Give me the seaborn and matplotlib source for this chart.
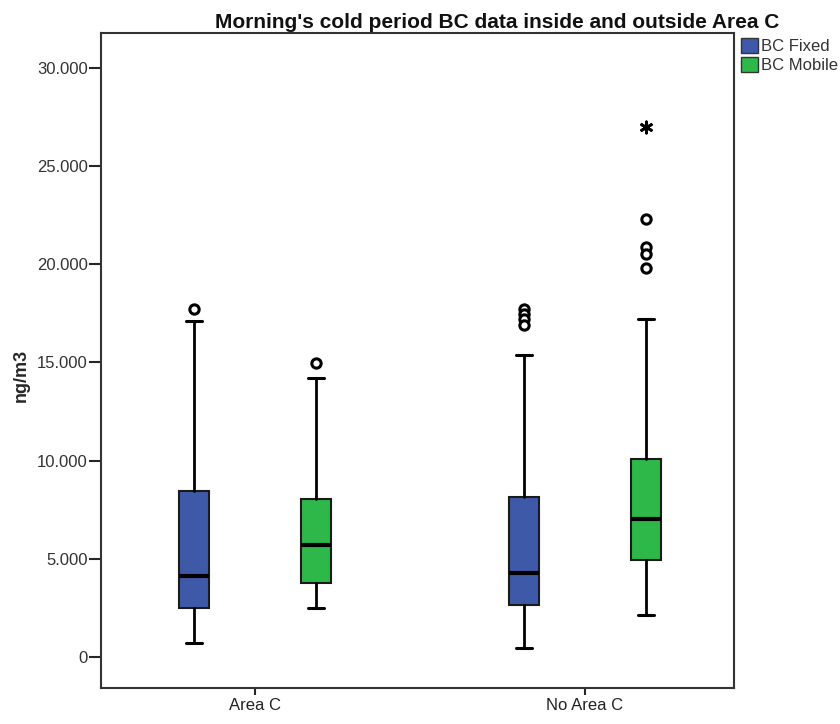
import matplotlib
matplotlib.use("Agg")
import matplotlib.pyplot as plt
from matplotlib.patches import Patch
from matplotlib.ticker import FuncFormatter
import seaborn as sns
import pandas as pd

# Categories and series
groups = ["Area C", "No Area C"]
series = ["BC Fixed", "BC Mobile"]
series_colors = ["#3F59A9", "#2EB84A"]

# Box summaries, ordered (Area C: Fixed, Mobile), (No Area C: Fixed, Mobile)
box_group = ["Area C", "Area C", "No Area C", "No Area C"]
box_series = ["BC Fixed", "BC Mobile", "BC Fixed", "BC Mobile"]
whisker_low = [700, 2480, 460, 2160]
q1 = [2480, 3770, 2630, 4940]
median = [4100, 5700, 4280, 7030]
q3 = [8450, 8050, 8150, 10090]
whisker_high = [17100, 14200, 15400, 17230]
outliers = [[17700], [14970], [17700, 17450, 17200, 16900], [22300, 20900, 20500, 19800]]
extremes = [[], [], [], [27000]]

y_ticks = [0, 5000, 10000, 15000, 20000, 25000, 30000]

sns.set_style("ticks")
plt.rcParams["font.family"] = ["Liberation Sans", "DejaVu Sans"]

fig = plt.figure(figsize=(8.4, 7.24), dpi=100)
ax = fig.add_axes([100.5 / 840, 1 - 688 / 724, 633.5 / 840, 655 / 724])

dodge = 0.185
box_w = 0.091
cap_w = 0.048

def box_x(g, s):
    return groups.index(g) + (-dodge if series.index(s) == 0 else dodge)

positions = [box_x(g, s) for g, s in zip(box_group, box_series)]
stats = [
    dict(whislo=lo, q1=a, med=m, q3=b, whishi=hi, fliers=[])
    for lo, a, m, b, hi in zip(whisker_low, q1, median, q3, whisker_high)
]
bp = ax.bxp(
    stats, positions=positions, widths=box_w, capwidths=cap_w,
    patch_artist=True, showfliers=False,
    boxprops=dict(edgecolor="#1a1a1a", linewidth=1.5),
    medianprops=dict(color="black", linewidth=3, solid_capstyle="butt"),
    whiskerprops=dict(color="black", linewidth=2),
    capprops=dict(color="black", linewidth=2.2),
)
for patch, s in zip(bp["boxes"], box_series):
    patch.set_facecolor(series_colors[series.index(s)])

# Outliers (circles) and extreme values (asterisks)
out_rows = [
    {"x": box_x(g, s), "value": v}
    for g, s, vals in zip(box_group, box_series, outliers) for v in vals
]
ext_rows = [
    {"x": box_x(g, s), "value": v}
    for g, s, vals in zip(box_group, box_series, extremes) for v in vals
]
sns.scatterplot(data=pd.DataFrame(out_rows), x="x", y="value", ax=ax,
                marker="o", s=45, facecolor="white", edgecolor="black",
                linewidth=2.2, zorder=5, legend=False)
sns.scatterplot(data=pd.DataFrame(ext_rows), x="x", y="value", ax=ax,
                marker=(6, 2, 0), s=65, color="black", edgecolor="black",
                linewidth=2.0, zorder=5, legend=False)

ax.set_xlim(-0.468, 1.4515)
ax.set_ylim(-1580, 31780)
ax.set_xticks(range(len(groups)))
ax.set_xticklabels(groups, fontsize=12, color="#222222")
ax.set_yticks(y_ticks)
ax.yaxis.set_major_formatter(FuncFormatter(lambda v, p: f"{v:,.0f}".replace(",", ".")))
ax.tick_params(axis="y", labelsize=12, labelcolor="#333333", length=8.5, width=1.5,
               direction="out", pad=0.5)
ax.tick_params(axis="x", length=5, width=1.5, direction="out", pad=2)
ax.set_xlabel("")
ax.set_ylabel("ng/m3", fontsize=13, fontweight="bold")
ax.yaxis.set_label_coords((30 - 100.5) / 633.5, (688 - 375) / 655)
for sp in ax.spines.values():
    sp.set_visible(True)
    sp.set_color("#333333")
    sp.set_linewidth(1.5)

fig.text(497 / 840, 1 - 28.5 / 724, "Morning's cold period BC data inside and outside Area C",
         ha="center", va="baseline", fontsize=15, fontweight="bold", color="#111111")

handles = [Patch(facecolor=c, edgecolor="#333333", linewidth=1) for c in series_colors]
fig.legend(handles, series, loc="upper left", bbox_to_anchor=(741 / 840, 1 - 38 / 724),
           frameon=False, fontsize=12, handlelength=1.0, handleheight=1.05,
           handletextpad=0.18, labelspacing=0.15, borderaxespad=0, borderpad=0,
           labelcolor="#333333")

fig.savefig("out.png", dpi=100)
